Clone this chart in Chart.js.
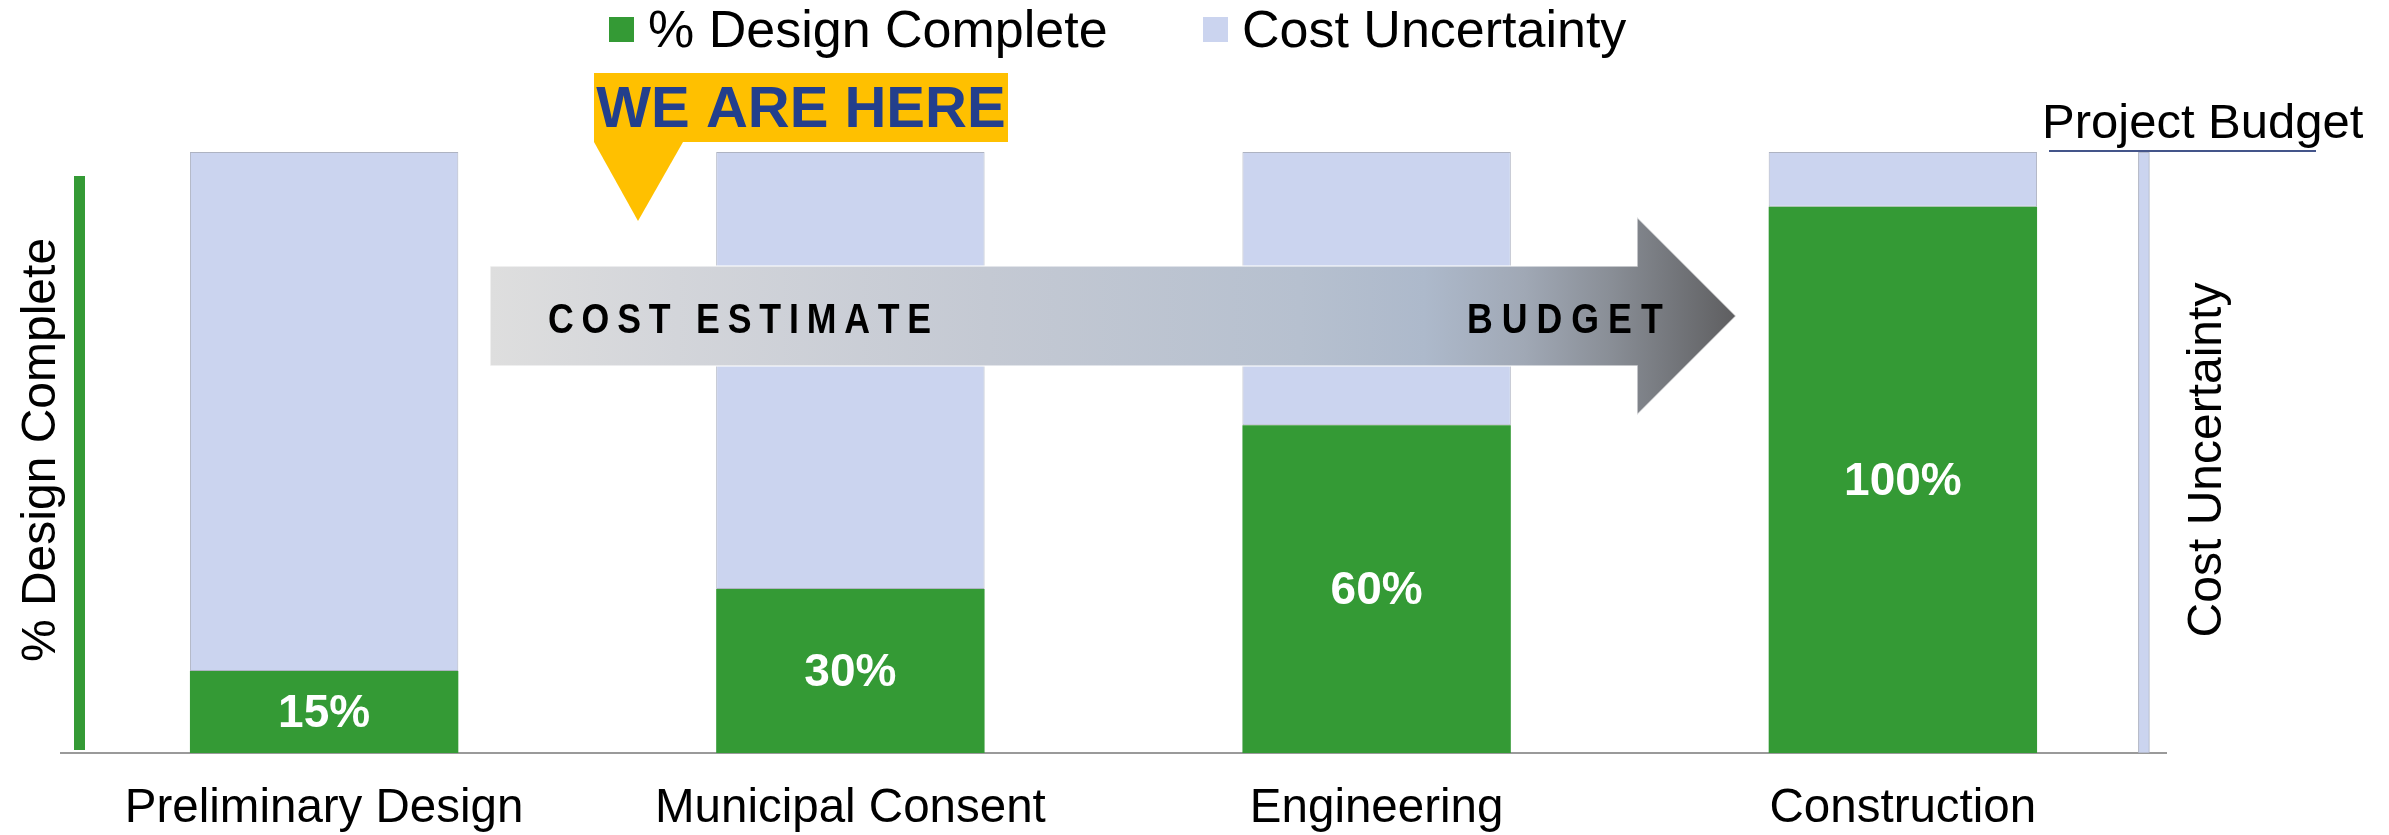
<!DOCTYPE html>
<html>
<head>
<meta charset="utf-8">
<title>Design Complete vs Cost Uncertainty</title>
<script src="https://cdn.jsdelivr.net/npm/chart.js@4.4.0/dist/chart.umd.min.js"></script>
<style>
  html, body { margin: 0; padding: 0; background: #fff; }
</style>
</head>
<body>
<canvas id="js-chart-design-cost" width="2389" height="835"></canvas>
<script>
// Chart data
const stages = ['Preliminary Design', 'Municipal Consent', 'Engineering', 'Construction'];
const designComplete = [15, 30, 60, 100];
const costUncertainty = [95, 80, 50, 10];
const budgetSlot = [3.958];
const budgetHeight = [110];
const yMax = 110;

const FONT = '"Liberation Sans", Arial, Helvetica, sans-serif';
const GREEN = '#349a35';
const BLUE = '#cbd4ef';

class pageDesignCost {
  // draws text letter by letter, squeezed a little, with extra tracking
  static spacedText(ctx, text, x, y, spacing, squeeze) {
    for (const ch of text) {
      ctx.save();
      ctx.translate(x, y);
      ctx.scale(squeeze, 1);
      ctx.fillText(ch, 0, 0);
      ctx.restore();
      x += ctx.measureText(ch).width * squeeze + spacing;
    }
  }

  static drawArrow(ctx) {
    const x0 = 490, x1 = 1637, x2 = 1736, yc = 316, hb = 50, hh = 99;
    let g = ctx.createLinearGradient(x0, 0, x2, 0);
    g.addColorStop(0, '#dedede');
    g.addColorStop(0.15, '#d3d5da');
    g.addColorStop(0.4, '#c4c9d3');
    g.addColorStop(0.65, '#b6c0cf');
    g.addColorStop(0.75, '#adb9cb');
    g.addColorStop(0.83, '#a0a8b5');
    g.addColorStop(0.9, '#898e96');
    g.addColorStop(1, '#5e5e60');
    ctx.beginPath();
    ctx.moveTo(x0, yc - hb);
    ctx.lineTo(x1, yc - hb);
    ctx.lineTo(x1, yc - hh);
    ctx.lineTo(x2, yc);
    ctx.lineTo(x1, yc + hh);
    ctx.lineTo(x1, yc + hb);
    ctx.lineTo(x0, yc + hb);
    ctx.closePath();
    ctx.fillStyle = g;
    ctx.fill();
    ctx.strokeStyle = 'rgba(255,255,255,.7)';
    ctx.lineWidth = 1.5;
    ctx.stroke();

    ctx.fillStyle = '#000';
    ctx.font = 'bold 42px ' + FONT;
    ctx.textAlign = 'left';
    ctx.textBaseline = 'alphabetic';
    this.spacedText(ctx, 'COST ESTIMATE', 548, 333, 7.8, 0.85);
    this.spacedText(ctx, 'BUDGET', 1467, 333, 9, 0.85);
  }

  static initChart() {
    let con = document.getElementById('js-chart-design-cost');

    let annotations = {
      id: 'annotations',
      afterDatasetsDraw(chart) {
        const ctx = chart.ctx;
        ctx.save();

        // % labels inside the green bars
        let meta = chart.getDatasetMeta(0);
        ctx.fillStyle = '#fff';
        ctx.font = 'bold 46px ' + FONT;
        ctx.textAlign = 'center';
        ctx.textBaseline = 'middle';
        meta.data.forEach((bar, i) => {
          ctx.fillText(designComplete[i] + '%', bar.x, (bar.y + bar.base) / 2 + 2);
        });

        pageDesignCost.drawArrow(ctx);
        ctx.restore();
      },
      afterDraw(chart) {
        const ctx = chart.ctx;
        const area = chart.chartArea;
        ctx.save();

        // legend
        ctx.font = '52px ' + FONT;
        ctx.textAlign = 'left';
        ctx.textBaseline = 'alphabetic';
        [[GREEN, 609, 648, chart.data.datasets[0].label], [BLUE, 1203, 1242, chart.data.datasets[1].label]].forEach(item => {
          ctx.fillStyle = item[0];
          ctx.fillRect(item[1], 17, 25, 25);
          ctx.fillStyle = '#000';
          ctx.fillText(item[3], item[2], 47);
        });

        // green bar along the left side
        ctx.fillStyle = GREEN;
        ctx.fillRect(74, area.top + 24, 11, area.bottom - area.top - 27);

        // axis titles, both reading bottom to top
        ctx.fillStyle = '#000';
        ctx.font = '48px ' + FONT;
        ctx.textAlign = 'center';
        ctx.save();
        ctx.translate(55, 450);
        ctx.rotate(-Math.PI / 2);
        ctx.fillText('% Design Complete', 0, 0);
        ctx.restore();
        ctx.save();
        ctx.translate(2221, 460);
        ctx.rotate(-Math.PI / 2);
        ctx.fillText('Cost Uncertainty', 0, 0);
        ctx.restore();

        // project budget caption
        ctx.textAlign = 'left';
        ctx.font = '49px ' + FONT;
        ctx.fillText('Project Budget', 2042, 138);
        ctx.strokeStyle = '#44558a';
        ctx.lineWidth = 2;
        ctx.beginPath();
        ctx.moveTo(2049, 151);
        ctx.lineTo(2316, 151);
        ctx.stroke();

        // WE ARE HERE callout
        ctx.fillStyle = '#ffc000';
        ctx.fillRect(594, 73, 414, 69);
        ctx.beginPath();
        ctx.moveTo(594, 142);
        ctx.lineTo(683, 142);
        ctx.lineTo(638, 221);
        ctx.closePath();
        ctx.fill();
        ctx.fillStyle = '#233f8c';
        ctx.font = 'bold 58px ' + FONT;
        ctx.textAlign = 'center';
        ctx.fillText('WE ARE HERE', 801, 127);

        ctx.restore();
      }
    };

    let chartData = {
      labels: stages,
      datasets: [
        {
          label: '% Design Complete',
          data: designComplete,
          backgroundColor: GREEN,
          borderWidth: 0,
          grouped: false,
          stack: 'phase'
        },
        {
          label: 'Cost Uncertainty',
          data: costUncertainty,
          backgroundColor: BLUE,
          borderColor: '#aeb3c2',
          borderWidth: 1,
          borderSkipped: false,
          grouped: false,
          stack: 'phase'
        },
        {
          label: 'Project Budget',
          data: budgetSlot.map((s, i) => ({x: s, y: budgetHeight[i]})),
          xAxisID: 'xb',
          backgroundColor: BLUE,
          borderColor: '#aeb3c2',
          borderWidth: 1,
          borderSkipped: false,
          grouped: false,
          barThickness: 11
        }
      ]
    };

    let chartOptions = {
      responsive: false,
      animation: false,
      events: [],
      categoryPercentage: 1,
      barPercentage: 0.51,
      layout: {
        padding: {left: 61, right: 223, top: 152, bottom: 0}
      },
      scales: {
        x: {
          stacked: true,
          grid: {display: false, drawTicks: false},
          border: {display: true, color: '#9a9a9a', width: 2},
          ticks: {
            color: '#000',
            padding: 32,
            maxRotation: 0,
            autoSkip: false,
            font: {family: FONT, size: 47.5, lineHeight: 1}
          },
          afterFit: function (scale) {
            scale.height = 82;
          }
        },
        xb: {
          type: 'linear',
          display: false,
          offset: false,
          min: 0,
          max: 4
        },
        y: {
          stacked: true,
          display: false,
          min: 0,
          max: yMax
        }
      },
      plugins: {
        legend: {display: false},
        tooltip: {enabled: false}
      }
    };

    new Chart(con, {type: 'bar', data: chartData, options: chartOptions, plugins: [annotations]});
  }

  static init() {
    this.initChart();
  }
}

pageDesignCost.init();
</script>
</body>
</html>
